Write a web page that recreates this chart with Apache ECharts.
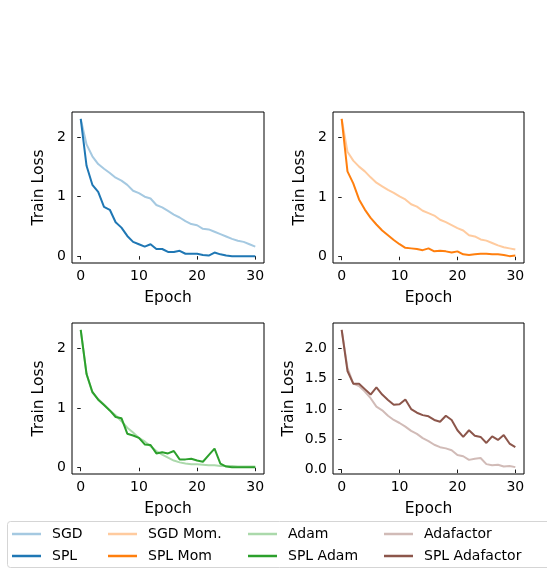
<!DOCTYPE html>
<html>
<head>
<meta charset="utf-8">
<script src="https://cdn.jsdelivr.net/npm/echarts@6/dist/echarts.min.js"></script>
<style>
html,body{margin:0;padding:0;background:#fff;}
#c{width:547px;height:569px;}
</style>
</head>
<body>
<div id="c"></div>
<script>
const epochs = [0,1,2,3,4,5,6,7,8,9,10,11,12,13,14,15,16,17,18,19,20,21,22,23,24,25,26,27,28,29,30];
const xTicks = [0,10,20,30];
const yTicksInt = [0,1,2];
const yTicksHalf = [0,0.5,1,1.5,2];

const sgd = [2.31,1.88,1.68,1.55,1.47,1.40,1.32,1.27,1.20,1.10,1.06,1.00,0.97,0.86,0.82,0.76,0.70,0.65,0.59,0.54,0.52,0.46,0.45,0.41,0.37,0.33,0.29,0.26,0.24,0.20,0.16];
const spl = [2.31,1.52,1.20,1.08,0.83,0.78,0.57,0.48,0.34,0.24,0.20,0.16,0.20,0.12,0.12,0.07,0.07,0.09,0.04,0.04,0.04,0.02,0.01,0.06,0.03,0.01,0.00,0.00,0.00,0.00,0.00];
const sgdMom = [2.31,1.76,1.61,1.51,1.43,1.33,1.24,1.18,1.12,1.07,1.01,0.96,0.88,0.84,0.77,0.73,0.69,0.62,0.58,0.53,0.48,0.44,0.36,0.34,0.29,0.27,0.23,0.19,0.16,0.14,0.12];
const splMom = [2.31,1.43,1.23,0.96,0.79,0.65,0.54,0.44,0.36,0.28,0.21,0.15,0.14,0.13,0.11,0.14,0.09,0.10,0.09,0.07,0.09,0.04,0.03,0.04,0.05,0.05,0.04,0.04,0.03,0.01,0.02];
const adam = [2.31,1.57,1.26,1.15,1.06,0.96,0.88,0.78,0.67,0.59,0.50,0.44,0.36,0.28,0.22,0.17,0.12,0.09,0.07,0.06,0.06,0.05,0.04,0.04,0.03,0.03,0.03,0.02,0.02,0.02,0.02];
const splAdam = [2.31,1.57,1.27,1.14,1.05,0.96,0.85,0.83,0.57,0.54,0.50,0.39,0.38,0.24,0.26,0.24,0.28,0.14,0.14,0.15,0.12,0.10,0.21,0.32,0.07,0.02,0.01,0.01,0.01,0.01,0.01];
const adafactor = [2.31,1.68,1.42,1.38,1.29,1.18,1.04,0.98,0.89,0.82,0.77,0.71,0.64,0.59,0.52,0.47,0.41,0.37,0.35,0.32,0.24,0.22,0.16,0.18,0.19,0.09,0.07,0.08,0.05,0.06,0.04];
const splAdafactor = [2.31,1.63,1.42,1.42,1.33,1.24,1.36,1.24,1.15,1.07,1.08,1.16,1.00,0.94,0.90,0.88,0.82,0.79,0.89,0.82,0.65,0.54,0.65,0.56,0.54,0.44,0.55,0.49,0.57,0.43,0.37];

const FONT = 'DejaVu Sans';
const grids = [
  {left:72, top:112, width:192, height:151},
  {left:333, top:112, width:191, height:151},
  {left:72, top:323, width:192, height:151},
  {left:333, top:323, width:191, height:151}
];
const panels = [
  {light:{name:'SGD', data:sgd, color:'#a5c9e1'}, dark:{name:'SPL', data:spl, color:'#1f77b4'}, ticks:yTicksInt, fmt:v=>String(v), gap:25},
  {light:{name:'SGD Mom.', data:sgdMom, color:'#ffcb9f'}, dark:{name:'SPL Mom', data:splMom, color:'#ff7f0e'}, ticks:yTicksInt, fmt:v=>String(v), gap:25},
  {light:{name:'Adam', data:adam, color:'#abd9ab'}, dark:{name:'SPL Adam', data:splAdam, color:'#2ca02c'}, ticks:yTicksInt, fmt:v=>String(v), gap:25},
  {light:{name:'Adafactor', data:adafactor, color:'#d1bbb7'}, dark:{name:'SPL Adafactor', data:splAdafactor, color:'#8c564b'}, ticks:yTicksHalf, fmt:v=>v.toFixed(1), gap:36}
];

const xAxis = [], yAxis = [], series = [];
panels.forEach((p,i)=>{
  const all = p.light.data.concat(p.dark.data);
  const lo = Math.min(...all), hi = Math.max(...all), m = 0.05*(hi-lo);
  xAxis.push({
    type:'value', gridIndex:i, min:-1.5, max:31.5,
    name:'Epoch', nameLocation:'middle', nameGap:27,
    nameTextStyle:{fontFamily:FONT, fontSize:15.5, color:'#000'},
    splitLine:{show:false}, axisLine:{show:false},
    axisTick:{show:true, length:3.5, customValues:xTicks, lineStyle:{color:'#000', width:0.9}},
    axisLabel:{customValues:xTicks, margin:6, fontFamily:FONT, fontSize:14, color:'#000', formatter:v=>String(v)}
  });
  yAxis.push({
    type:'value', gridIndex:i, min:lo-m, max:hi+m,
    name:'Train Loss', nameLocation:'middle', nameGap:p.gap, nameRotate:90,
    nameTextStyle:{fontFamily:FONT, fontSize:15.5, color:'#000'},
    splitLine:{show:false}, axisLine:{show:false},
    axisTick:{show:true, length:3.5, customValues:p.ticks, lineStyle:{color:'#000', width:0.9}},
    axisLabel:{customValues:p.ticks, margin:6, fontFamily:FONT, fontSize:14, color:'#000', formatter:p.fmt}
  });
  [p.light, p.dark].forEach(s=>{
    series.push({
      type:'line', name:s.name, xAxisIndex:i, yAxisIndex:i,
      data:epochs.map((e,k)=>[e, s.data[k]]),
      showSymbol:false, symbol:'none', smooth:false, animation:false,
      lineStyle:{color:s.color, width:2}, itemStyle:{color:s.color}
    });
  });
});

const legendCols = [[0,1],[2,3],[4,5],[6,7]];
const legendLeft = [12, 108, 248, 384];
const legends = legendCols.map((idx,c)=>({
  orient:'vertical', left:legendLeft[c], top:527, padding:0, itemGap:8,
  itemWidth:29, itemHeight:2.5, icon:'rect',
  data:idx.map(k=>series[k].name),
  selectedMode:false,
  textStyle:{fontFamily:FONT, fontSize:14, color:'#000', padding:[0,0,0,6]}
}));

const chart = echarts.init(document.getElementById('c'), null, {renderer:'canvas'});
chart.setOption({
  backgroundColor:'#fff',
  animation:false,
  grid:grids.map(g=>Object.assign({show:true, borderColor:'#000', borderWidth:1, containLabel:false}, g)),
  xAxis, yAxis, series,
  legend:legends,
  graphic:[{
    type:'rect', left:7, top:521, silent:true,
    shape:{width:560, height:46, r:3},
    style:{fill:'rgba(255,255,255,0.8)', stroke:'#d5d5d5', lineWidth:1},
    z:-1
  }]
});
</script>
</body>
</html>
